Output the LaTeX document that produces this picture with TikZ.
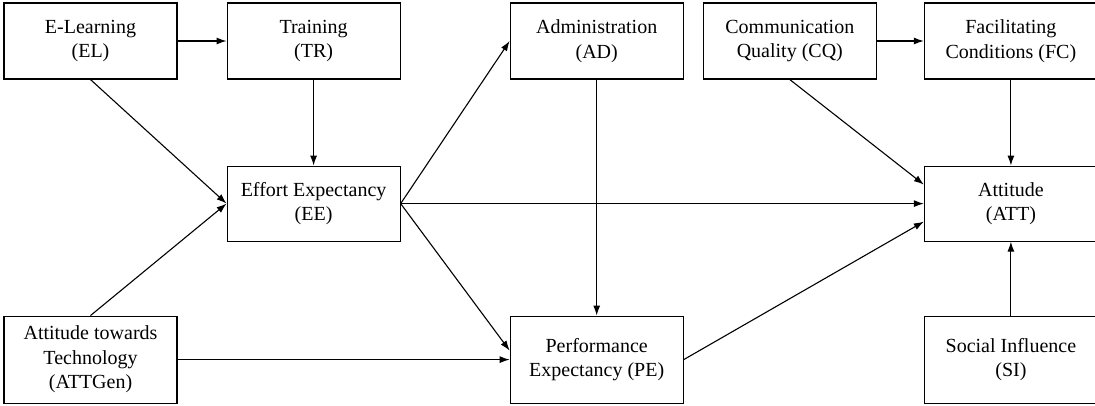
\documentclass[tikz,border=0pt]{standalone}
\usepackage{fontspec}
\setmainfont{Liberation Serif}
\newfontfamily\timesfont{Liberation Serif}
\usetikzlibrary{arrows.meta,positioning}
\tikzstyle{factor} = [rectangle,
                     minimum width=173pt,
                     minimum height=76pt,
                     inner sep=2pt,
                     align=center,
                     draw=black,
                     line width=1.1pt,
                     font=\timesfont\fontsize{20pt}{24.5pt}\selectfont]
\tikzstyle{model} = [>={Latex[length=10pt,width=7pt]},
                    line width=1.1pt]

\begin{document}
\begin{tikzpicture}[model]
    \useasboundingbox (0,0) rectangle (1095pt,-405pt);
    \node (EL) at (90.5pt,-41pt) [factor] {E-Learning\\(EL)};
    \node (TR) [right=49pt of EL] [factor] {Training\\(TR)};
    \node (AD) [right=109pt of TR] [factor] {Administration\\(AD)};
    \node (CQ) [right=19pt of AD] [factor] {Communication\\Quality (CQ)};
    \node (FC) [right=47pt of CQ] [factor] {Facilitating\\Conditions (FC)};
    \node (EE) [below=86pt of TR] [factor, minimum height=75pt] {Effort Expectancy\\(EE)};
    \node (ATT) [below=86pt of FC] [factor, minimum height=75pt] {Attitude\\(ATT)};
    \node (ATTGen) [below=236pt of EL] [factor, minimum height=87pt] {Attitude towards\\Technology\\(ATTGen)};
    \node (PE) [below=236pt of AD] [factor, minimum height=87pt] {Performance\\Expectancy (PE)};
    \node (SI) [below=236pt of FC] [factor, minimum height=87pt] {Social Influence\\(SI)};
    \path[->]
      (EL) edge (TR)
      (TR) edge (EE)
      (EL.south) edge (EE.west)
      (ATTGen.north) edge (EE.west)
      (ATTGen) edge (PE)
      (EE.east) edge (AD.west)
      (EE) edge (ATT)
      (EE.east) edge ([yshift=9pt]PE.west)
      (AD) edge (PE)
      (CQ) edge (FC)
      (CQ.south) edge ([yshift=19pt]ATT.west)
      (FC) edge (ATT)
      (PE.east) edge ([yshift=-18pt]ATT.west)
      (SI) edge (ATT);
\end{tikzpicture}
\end{document}
